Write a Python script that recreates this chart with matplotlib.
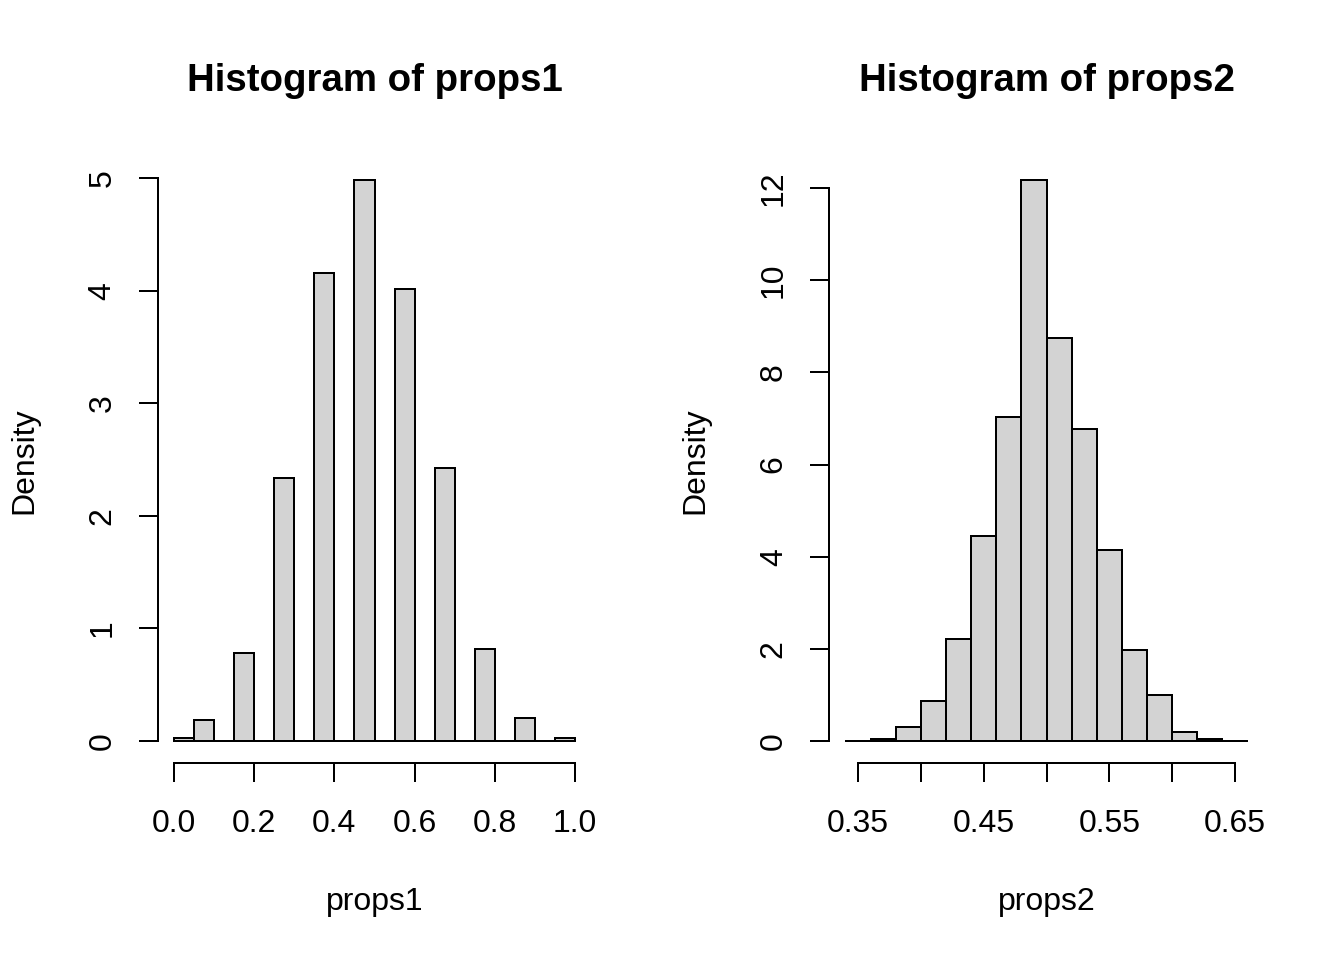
import numpy as np
import matplotlib
matplotlib.use("Agg")
import matplotlib.pyplot as plt

plt.rcParams['font.family'] = ['Liberation Sans', 'DejaVu Sans']

# Data
breaks1 = [0.00, 0.05, 0.10, 0.15, 0.20, 0.25, 0.30, 0.35, 0.40, 0.45, 0.50,
           0.55, 0.60, 0.65, 0.70, 0.75, 0.80, 0.85, 0.90, 0.95, 1.00]
density1 = [0.024, 0.187, 0, 0.785, 0, 2.34, 0, 4.16, 0, 4.985, 0,
            4.02, 0, 2.43, 0, 0.82, 0, 0.204, 0, 0.027]
breaks2 = [0.34, 0.36, 0.38, 0.40, 0.42, 0.44, 0.46, 0.48, 0.50, 0.52, 0.54,
           0.56, 0.58, 0.60, 0.62, 0.64, 0.66]
density2 = [0, 0.04, 0.30, 0.87, 2.21, 4.45, 7.03, 12.17, 8.74, 6.77, 4.14,
            1.97, 1.0, 0.19, 0.05, 0]

xticks1 = [0.0, 0.2, 0.4, 0.6, 0.8, 1.0]
xticklabels1 = ["0.0", "0.2", "0.4", "0.6", "0.8", "1.0"]
yticks1 = [0, 1, 2, 3, 4, 5]
xticks2 = [0.35, 0.40, 0.45, 0.50, 0.55, 0.60, 0.65]
xticklabels2 = ["0.35", "", "0.45", "", "0.55", "", "0.65"]
yticks2 = [0, 2, 4, 6, 8, 10, 12]

W, H = 1344, 960
fig = plt.figure(figsize=(7, 5), dpi=192)

def px_axes(x0, x1, ytop, ybot):
    return fig.add_axes([x0 / W, 1 - ybot / H, (x1 - x0) / W, (ybot - ytop) / H])

def r_hist(ax, breaks, dens, xticks, xticklabels, yticks, title, xlabel):
    b = np.array(breaks)
    d = np.array(dens)
    ax.bar(b[:-1], d, width=np.diff(b), align='edge', facecolor='#D3D3D3',
           edgecolor='black', linewidth=0.75)
    xr = b[-1] - b[0]
    ax.set_xlim(b[0] - 0.04 * xr, b[-1] + 0.04 * xr)
    ymax = d.max()
    ax.set_ylim(-0.04 * ymax, ymax * 1.04)
    for s in ['top', 'right']:
        ax.spines[s].set_visible(False)
    ax.spines['left'].set_bounds(yticks[0], yticks[-1])
    ax.spines['bottom'].set_bounds(xticks[0], xticks[-1])
    for s in ['left', 'bottom']:
        ax.spines[s].set_linewidth(0.75)
    ax.set_xticks(xticks)
    ax.set_xticklabels(xticklabels)
    ax.set_yticks(yticks)
    ax.set_yticklabels([str(v) for v in yticks], rotation=90, va='center')
    ax.tick_params(axis='both', direction='out', length=7.2, width=0.75,
                   labelsize=12)
    ax.tick_params(axis='x', pad=10)
    ax.tick_params(axis='y', pad=8)
    ax.set_title(title, fontsize=14.4, fontweight='bold', pad=25)
    ax.set_xlabel(xlabel, fontsize=12, labelpad=18)
    ax.set_ylabel("Density", fontsize=12, labelpad=18)

ax1 = px_axes(158, 591, 157.6, 763.4)
r_hist(ax1, breaks1, density1, xticks1, xticklabels1, yticks1,
       "Histogram of props1", "props1")
ax2 = px_axes(829.4, 1263.7, 157.9, 763.4)
r_hist(ax2, breaks2, density2, xticks2, xticklabels2, yticks2,
       "Histogram of props2", "props2")

fig.savefig("out.png", dpi=192)
